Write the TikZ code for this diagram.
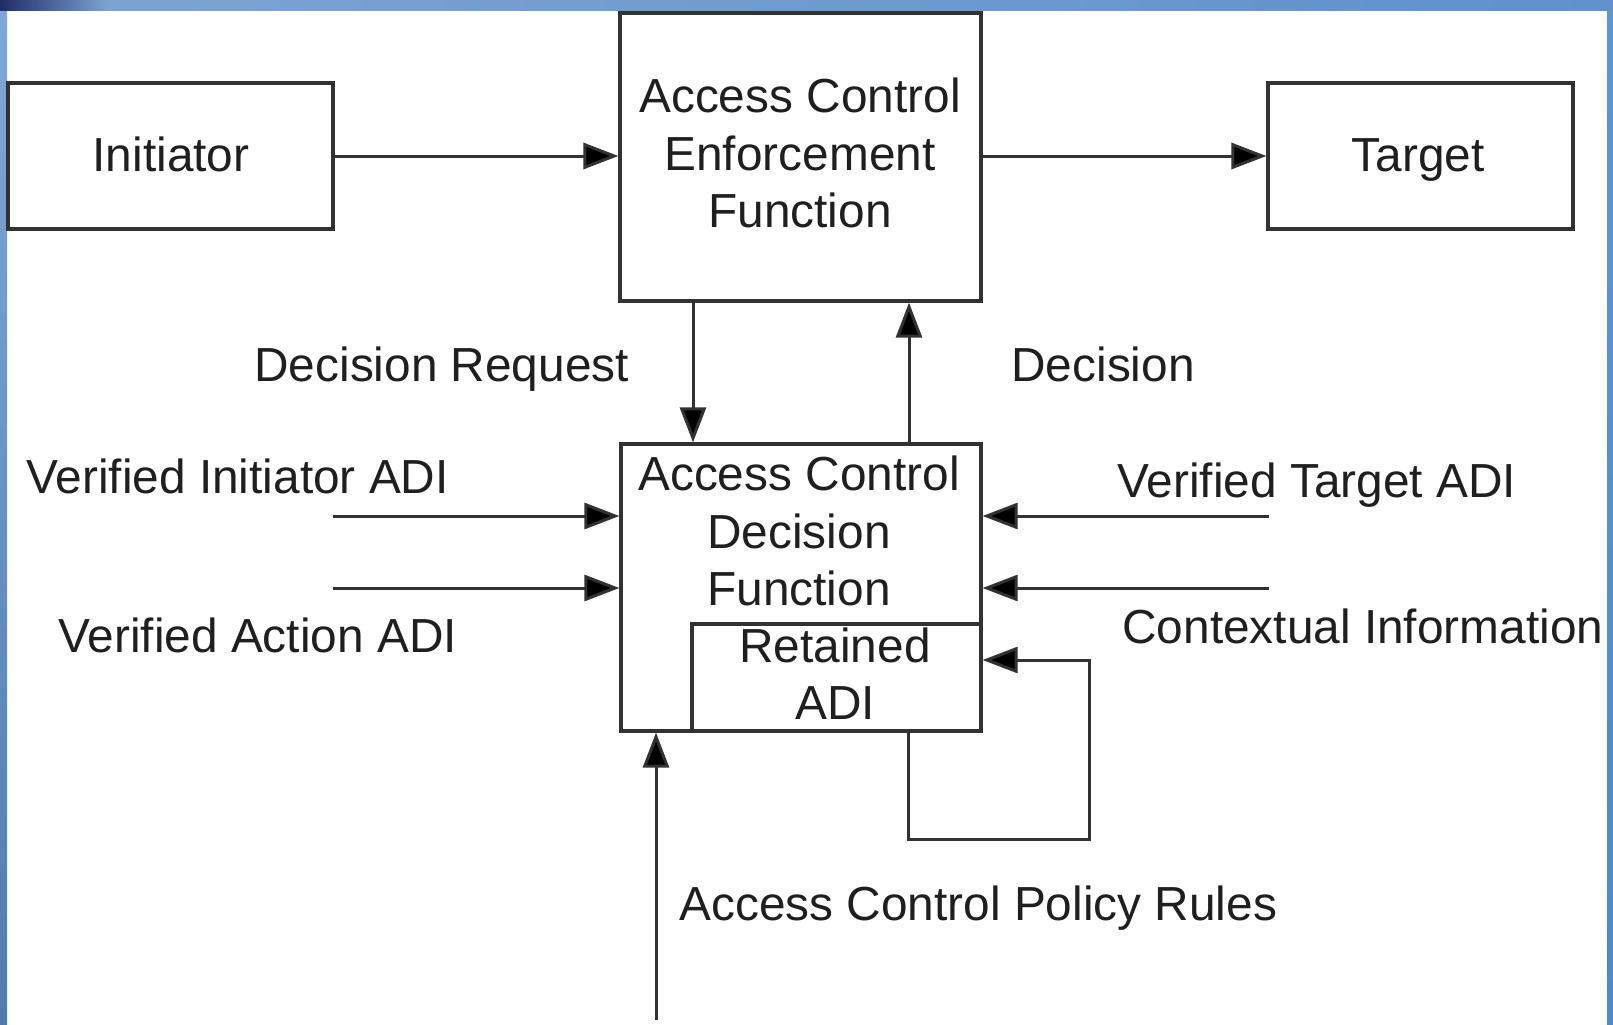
\documentclass[tikz,border=0pt]{standalone}
\usepackage{fontspec}
\setmainfont{Liberation Sans}
\usetikzlibrary{arrows.meta,fit}

\definecolor{frameblue}{RGB}{96,145,205}
\definecolor{framelight}{RGB}{125,165,210}
\definecolor{framedark}{RGB}{30,45,105}
\definecolor{rightblue}{RGB}{78,137,203}
\definecolor{inkgray}{RGB}{50,50,50}

\tikzset{
  box/.style={draw=inkgray, line width=1.6pt, inner sep=0pt, fill=white},
  txt/.style={font=\fontsize{23.9}{28.75}\selectfont, text=black!88, inner sep=0pt},
  arr/.style={draw=inkgray, line width=1.5pt,
              -{Triangle[length=17.5pt,width=13pt,fill=black]}},
  wire/.style={draw=inkgray, line width=1.5pt}
}

\begin{document}
\begin{tikzpicture}[x=0.5pt,y=-0.5pt]
  % page and blue frame
  \useasboundingbox (0,0) rectangle (1613,1024);
  \fill[white] (0,0) rectangle (1613,1024);
  \shade[top color=frameblue!80!white, bottom color=frameblue!85!black] (0,0) rectangle (7,1024);
  \shade[top color=rightblue!90!white, bottom color=rightblue] (1607,0) rectangle (1613,1024);
  \shade[left color=framelight, right color=frameblue] (0,0) rectangle (1613,10);
  \shade[left color=framedark, right color=framelight] (0,0) rectangle (110,10);

  % boxes
  \node[box, fit={(8,83) (333,229)}] (init) {};
  \node[box, fit={(1268,83) (1573,229)}] (tgt) {};
  \node[box, fit={(620,13) (981,301)}] (acef) {};
  \node[box, fit={(621,444) (981,731)}] (adf) {};
  \node[box, fit={(692,624) (981,731)}] (ret) {};

  % box texts
  \node[txt, anchor=base] (initT) at (171,171) {Initiator};
  \node[txt, anchor=base] (tgtT) at (1418,171) {Target};
  \node[txt, anchor=base] (acefA) at (800,112) {Access Control};
  \node[txt, anchor=base] (acefB) at (800,170) {Enforcement};
  \node[txt, anchor=base] (acefC) at (800,227) {Function};
  \node[txt, anchor=base] (adfA) at (799,490) {Access Control};
  \node[txt, anchor=base] (adfB) at (799,548) {Decision};
  \node[txt, anchor=base] (adfC) at (799,605) {Function};
  \node[txt, anchor=base] (retA) at (835,662) {Retained};
  \node[txt, anchor=base] (retB) at (835,719) {ADI};

  % free labels
  \node[txt, anchor=base west] (lReq) at (254,381) {Decision Request};
  \node[txt, anchor=base west] (lDec) at (1011,381) {Decision};
  \node[txt, anchor=base west] (lVI) at (26,493) {Verified Initiator ADI};
  \node[txt, anchor=base west] (lVA) at (58,652) {Verified Action ADI};
  \node[txt, anchor=base west] (lVT) at (1117,497) {Verified Target ADI};
  \node[txt, anchor=base west] (lCI) at (1122,643) {Contextual Information};
  \node[txt, anchor=base west] (lPol) at (679,920) {Access Control Policy Rules};

  % free ends of connectors
  \coordinate (reqx) at (693,0);
  \coordinate (decx) at (909,0);
  \coordinate (vi0) at (333,516);
  \coordinate (va0) at (333,588);
  \coordinate (vt0) at (1269,516);
  \coordinate (ci0) at (1269,588);
  \coordinate (loopA) at (908,839);
  \coordinate (loopB) at (1089,660);
  \coordinate (pol0) at (656,1020);

  % connectors
  \draw[arr] (init.east) -- (acef.west |- init.east);
  \draw[arr] (acef.east |- tgt.west) -- (tgt.west);
  \draw[arr] (acef.south -| reqx) -- (adf.north -| reqx);
  \draw[arr] (adf.north -| decx) -- (acef.south -| decx);
  \draw[arr] (vi0) -- (adf.west |- vi0);
  \draw[arr] (va0) -- (adf.west |- va0);
  \draw[arr] (vt0) -- (adf.east |- vt0);
  \draw[arr] (ci0) -- (adf.east |- ci0);
  \draw[arr] (ret.south -| loopA) -- (loopA) -| (loopB) -- (ret.east |- loopB);
  \draw[arr] (pol0) -- (adf.south -| pol0);
\end{tikzpicture}
\end{document}
